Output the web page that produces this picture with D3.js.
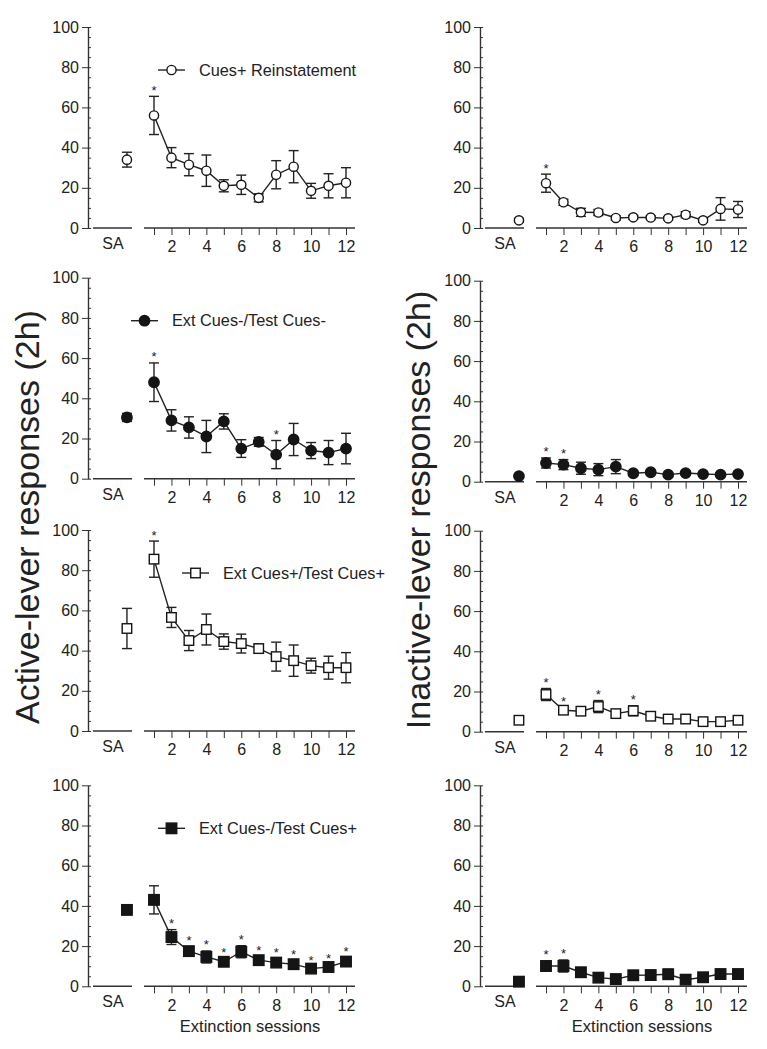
<!DOCTYPE html>
<html>
<head>
<meta charset="UTF-8" />
<title>Lever responses</title>
<script src="https://cdn.jsdelivr.net/npm/d3@7/dist/d3.min.js"></script>
<style>
body { margin: 0; background: #fff; }
svg { display: block; }
text { font-family: "Liberation Sans", Arial, Helvetica, sans-serif; fill: #222; }
.axis path, .axis line { stroke: #333; }
.axis text { font-size: 16px; fill: #222; }
</style>
</head>
<body>
<div id="chart"></div>
<script>
// ---- data ----
var sessions = [1, 2, 3, 4, 5, 6, 7, 8, 9, 10, 11, 12];
var yTicks = [0, 20, 40, 60, 80, 100];
var groupNames = ["Cues+ Reinstatement", "Ext Cues-/Test Cues-", "Ext Cues+/Test Cues+", "Ext Cues-/Test Cues+"];
var groupMarkers = ["circleOpen", "circleFilled", "squareOpen", "squareFilled"];

// active lever
var activeSA = [34, 30.5, 51, 38];
var activeSAErr = [3.7, 2, 10, 2];
var activeReinst = [56, 35, 31.5, 28.5, 21, 21.5, 15, 26.5, 30.5, 18.5, 21, 22.5];
var activeReinstErr = [9.5, 5, 5.5, 7.8, 3, 4.8, 2, 7, 8, 3.7, 6, 7.5];
var activeNegNeg = [48, 29, 25.5, 21, 28.5, 15, 18.3, 12, 19.5, 14, 13, 15];
var activeNegNegErr = [9.6, 5.3, 5.3, 8, 3.8, 4.4, 2.2, 7, 8, 4, 6, 7.6];
var activePosPos = [85.5, 56.5, 45, 50.5, 44.5, 43.5, 41, 37, 35, 32.5, 31.5, 31.5];
var activePosPosErr = [9, 5, 5, 7.7, 3.8, 4.7, 2.3, 7.2, 7.8, 3.7, 5.7, 7.5];
var activeNegPos = [43, 24.5, 17.5, 14.6, 12.2, 17.2, 13, 11.8, 11, 8.8, 9.6, 12.3];
var activeNegPosErr = [7, 3.7, 2.2, 3, 1.5, 3, 2, 2, 2, 1, 1, 2];
var activeStars = [[1], [1, 8], [1], [2, 3, 4, 5, 6, 7, 8, 9, 10, 11, 12]];

// inactive lever
var inactiveSA = [3.8, 2.8, 5.7, 2.3];
var inactiveSAErr = [1, 0.6, 1.5, 0.5];
var inactiveReinst = [22.3, 12.8, 7.8, 7.7, 5, 5.3, 5.2, 4.8, 6.6, 3.8, 9.5, 9.2];
var inactiveReinstErr = [4.5, 1.5, 2, 1.5, 1, 1, 0.8, 0.8, 1.5, 1, 5.6, 4];
var inactiveNegNeg = [9.3, 8.5, 6.7, 6, 7.5, 4.2, 4.7, 3.5, 4.3, 3.8, 3.5, 3.8];
var inactiveNegNegErr = [2.5, 2.5, 3, 3, 3.5, 1, 1, 1, 1, 1, 0.8, 1];
var inactivePosPos = [18.5, 10.7, 10.2, 12.5, 9, 10.4, 7.7, 6.3, 6.3, 5, 5, 5.7];
var inactivePosPosErr = [3, 1.5, 1, 3, 1, 2.5, 1, 0.8, 0.8, 0.8, 0.8, 0.8];
var inactiveNegPos = [10.1, 10.1, 7, 4.3, 3.6, 5.5, 5.6, 6, 3.3, 4.5, 6.1, 6.1];
var inactiveNegPosErr = [2.5, 3, 1, 2, 1, 2, 1, 2.5, 1, 1, 1, 1];
var inactiveStars = [[1], [1, 2], [1, 2, 4, 6], [1, 2]];

// ---- layout ----
var width = 767, height = 1049;
var panelH = 201;
var leftX = 88, rightX = 480;
var leftTop = [27, 277.7, 530, 785.3];
var rightTop = [27, 280.7, 530.7, 785.3];
var legendX = [70, 43, 94, 70];
var saPos = -0.55;   // where the SA point sits on the session scale

var svg = d3.select("#chart").append("svg")
    .attr("width", width)
    .attr("height", height);

var y = d3.scaleLinear().domain([0, 100]).range([panelH, 0]);
var x = d3.scaleLinear().domain([1, 12]).range([66, 258]);

function drawMarker(g, type, cx, cy) {
    if (type.indexOf("circle") === 0) {
        var filled = type === "circleFilled";
        g.append("circle")
            .attr("cx", cx).attr("cy", cy)
            .attr("r", filled ? 5.2 : 4.6)
            .attr("fill", filled ? "#151515" : "#fff")
            .attr("stroke", "#151515")
            .attr("stroke-width", 1.4);
    } else {
        var filled2 = type === "squareFilled";
        var s = filled2 ? 10.5 : 9.5;
        g.append("rect")
            .attr("x", cx - s / 2).attr("y", cy - s / 2)
            .attr("width", s).attr("height", s)
            .attr("fill", filled2 ? "#151515" : "#fff")
            .attr("stroke", "#151515")
            .attr("stroke-width", 1.4);
    }
}

function errorBar(g, cx, mean, err) {
    var top = y(mean + err), bot = y(Math.max(0, mean - err));
    g.append("line").attr("x1", cx).attr("x2", cx).attr("y1", top).attr("y2", bot)
        .attr("stroke", "#222").attr("stroke-width", 1.4);
    [top, bot].forEach(function(v) {
        g.append("line").attr("x1", cx - 5).attr("x2", cx + 5).attr("y1", v).attr("y2", v)
            .attr("stroke", "#222").attr("stroke-width", 1.4);
    });
}

function drawPanel(px, py, means, errs, sa, saErr, stars, marker, legend, legX, bottom) {
    var g = svg.append("g").attr("transform", "translate(" + px + "," + py + ")");

    // y axis + minor ticks
    g.append("g").attr("class", "axis")
        .call(d3.axisLeft(y).tickValues(yTicks).tickSize(6).tickSizeOuter(0).tickPadding(3))
        .call(function(a) { a.select(".domain").attr("stroke-width", 1.4); });
    g.append("g").attr("class", "axis minor")
        .call(d3.axisRight(y).tickValues(d3.range(0, 101, 5)).tickSize(3).tickFormat(""))
        .call(function(a) {
            a.select(".domain").remove();
            a.selectAll("line").attr("stroke", "#888");
        });

    // SA baseline + label
    g.append("line").attr("x1", 5).attr("x2", 44).attr("y1", y(0)).attr("y2", y(0))
        .attr("stroke", "#333").attr("stroke-width", 1.4);
    g.append("text").attr("x", 25).attr("y", y(0) + 21)
        .attr("text-anchor", "middle").style("font-size", "16px").text("SA");

    // session axis
    var xa = g.append("g").attr("class", "axis")
        .attr("transform", "translate(0," + y(0) + ")")
        .call(d3.axisBottom(x).tickValues(sessions).tickSize(7).tickPadding(6)
            .tickFormat(function(d) { return d % 2 === 0 ? d : ""; }));
    xa.select(".domain").remove();
    xa.selectAll("line").attr("stroke", "#777");
    xa.append("line").attr("x1", x(1) - 10).attr("x2", x(12) + 9)
        .attr("stroke", "#333").attr("stroke-width", 1.4);

    if (bottom) {
        g.append("text").attr("x", (x(1) + x(12)) / 2).attr("y", y(0) + 46)
            .attr("text-anchor", "middle").style("font-size", "16.5px")
            .text("Extinction sessions");
    }

    // connecting line
    var line = d3.line().x(function(d) { return x(d); }).y(function(d, i) { return y(means[i]); });
    g.append("path").datum(sessions).attr("d", line)
        .attr("fill", "none").attr("stroke", "#222").attr("stroke-width", 1.4);

    // error bars and markers
    sessions.forEach(function(s, i) { errorBar(g, x(s), means[i], errs[i]); });
    errorBar(g, x(saPos), sa, saErr);
    sessions.forEach(function(s, i) { drawMarker(g, marker, x(s), y(means[i])); });
    drawMarker(g, marker, x(saPos), y(sa));

    // significance stars
    stars.forEach(function(s) {
        var i = sessions.indexOf(s);
        g.append("text").attr("x", x(s)).attr("y", y(means[i] + errs[i]) - 1.5)
            .attr("text-anchor", "middle").style("font-size", "13px").text("*");
    });

    // legend
    if (legend) {
        var ly = y(78.6);
        g.append("line").attr("x1", legX).attr("x2", legX + 27).attr("y1", ly).attr("y2", ly)
            .attr("stroke", "#222").attr("stroke-width", 1.4);
        drawMarker(g, marker, legX + 13.5, ly);
        g.append("text").attr("x", legX + 41).attr("y", ly).attr("dy", "0.35em")
            .style("font-size", "16.3px").text(legend);
    }
}

var activeMeans = [activeReinst, activeNegNeg, activePosPos, activeNegPos];
var activeErrs = [activeReinstErr, activeNegNegErr, activePosPosErr, activeNegPosErr];
var inactiveMeans = [inactiveReinst, inactiveNegNeg, inactivePosPos, inactiveNegPos];
var inactiveErrs = [inactiveReinstErr, inactiveNegNegErr, inactivePosPosErr, inactiveNegPosErr];

for (var r = 0; r < 4; r++) {
    drawPanel(leftX, leftTop[r], activeMeans[r], activeErrs[r], activeSA[r], activeSAErr[r],
        activeStars[r], groupMarkers[r], groupNames[r], legendX[r], r === 3);
    drawPanel(rightX, rightTop[r], inactiveMeans[r], inactiveErrs[r], inactiveSA[r], inactiveSAErr[r],
        inactiveStars[r], groupMarkers[r], null, 0, r === 3);
}

// y titles
svg.append("text").attr("transform", "translate(39,517) rotate(-90)")
    .attr("text-anchor", "middle").style("font-size", "34px")
    .text("Active-lever responses (2h)");
svg.append("text").attr("transform", "translate(430,510) rotate(-90)")
    .attr("text-anchor", "middle").style("font-size", "34px")
    .text("Inactive-lever responses (2h)");
</script>
</body>
</html>
